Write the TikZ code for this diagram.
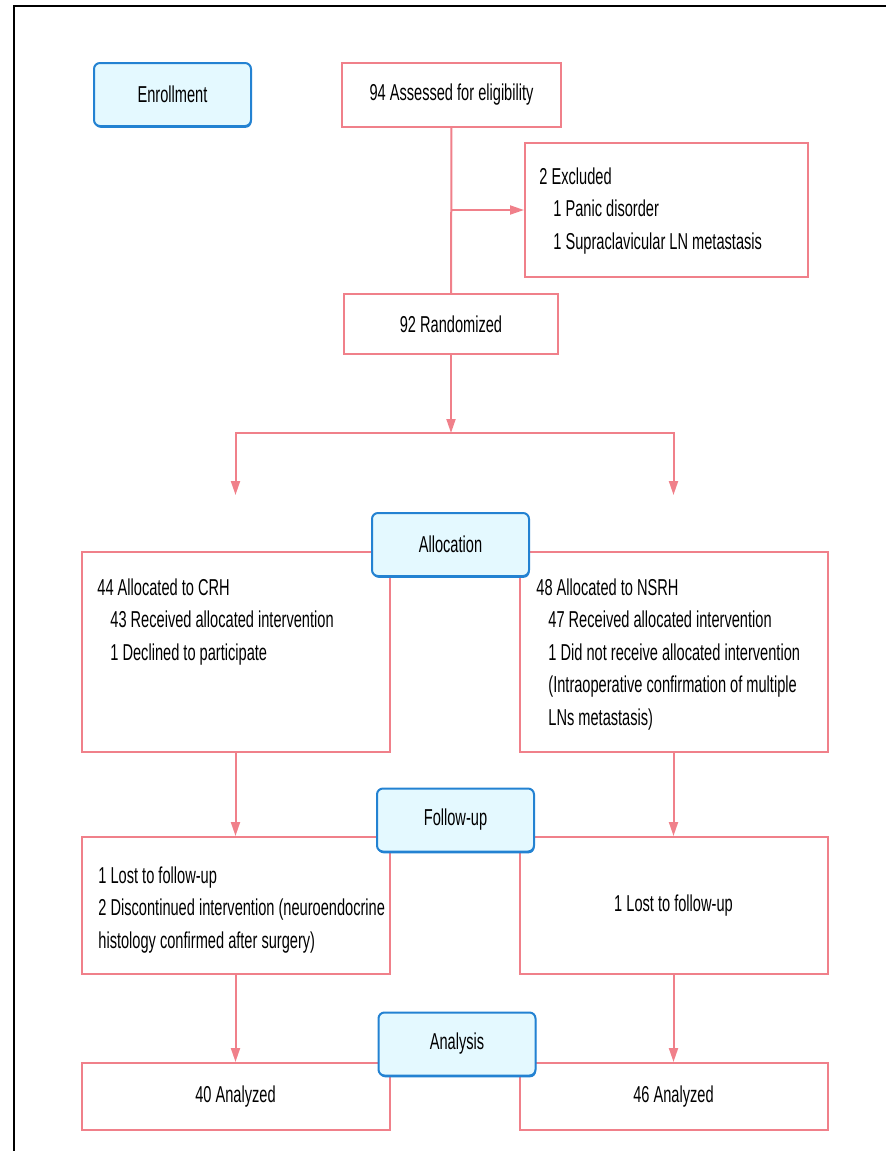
\documentclass[tikz,border=0pt]{standalone}
\usepackage{fontspec}
\setmainfont[FakeStretch=0.635]{Liberation Sans}
\usetikzlibrary{arrows.meta,shadows}

\definecolor{flowpink}{RGB}{240,128,138}
\definecolor{stageblue}{RGB}{35,130,210}
\definecolor{stagefill}{RGB}{228,249,255}

\tikzset{
  box/.style={draw=flowpink, line width=1pt, fill=white, inner sep=0pt},
  stage/.style={draw=stageblue, line width=1pt, fill=stagefill, rounded corners=3pt,
    minimum width=78.5pt, minimum height=31.5pt,
    drop shadow={shadow xshift=0.3pt, shadow yshift=-0.9pt, fill=stageblue, opacity=1}},
  txt/.style={anchor=north west, inner sep=0pt, align=left},
  link/.style={draw=flowpink, line width=1pt},
  arr/.style={link, -{Triangle[width=4.5pt,length=7pt]}}
}

\begin{document}
\begin{tikzpicture}[x=0.5pt, y=-0.5pt, font=\fontsize{11.5}{16.25}\selectfont]
\useasboundingbox (0,0) rectangle (886,1151);
\draw[line width=1pt] (14.3,1151) -- (14.3,5.7) -- (886,5.7);

\node[box, minimum width=109.5pt, minimum height=32pt] (assess) at (451.5,95) {94 Assessed for eligibility};
\node[box, minimum width=141.5pt, minimum height=67pt] (excl) at (666.5,210) {};
\node[txt] (excltxt) at (539,167) {2 Excluded\\\hspace*{7pt}1 Panic disorder\\\hspace*{7pt}1 Supraclavicular LN metastasis};
\node[box, minimum width=107pt, minimum height=30pt] (rand) at (451,324) {92 Randomized};
\coordinate (split) at (451,433);
\coordinate (crhin) at (235.5,495);
\coordinate (nsrhin) at (673.5,495);

\node[box, minimum width=154pt, minimum height=100pt] (crh) at (235.5,652) {};
\node[txt] (crhtxt) at (97,578) {44 Allocated to CRH\\\hspace*{6.5pt}43 Received allocated intervention\\\hspace*{6.5pt}1 Declined to participate};
\node[box, minimum width=154pt, minimum height=100pt] (nsrh) at (673.5,652) {};
\node[txt] (nsrhtxt) at (536,578) {48 Allocated to NSRH\\\hspace*{6pt}47 Received allocated intervention\\\hspace*{6pt}1 Did not receive allocated intervention\\\hspace*{6pt}(Intraoperative confirmation of multiple\\\hspace*{6pt}LNs metastasis)};

\node[box, minimum width=154pt, minimum height=68.5pt] (fucrh) at (235.5,905.5) {};
\node[txt] (fucrhtxt) at (98,866) {1 Lost to follow-up\\2 Discontinued intervention (neuroendocrine\\histology confirmed after surgery)};
\node[box, minimum width=154pt, minimum height=68.5pt] (funsrh) at (673.5,905.5) {1 Lost to follow-up};
\node[box, minimum width=154pt, minimum height=33.5pt] (ancrh) at (235.5,1096.5) {40 Analyzed};
\node[box, minimum width=154pt, minimum height=33.5pt] (annsrh) at (673.5,1096.5) {46 Analyzed};

\draw[link] (assess) -- (rand);
\draw[arr] (assess.south |- excl.west) -- (excl.west);
\draw[arr] (rand) -- (split);
\draw[arr] (split) -| (crhin);
\draw[arr] (split) -| (nsrhin);
\draw[arr] (crh) -- (fucrh);
\draw[arr] (nsrh) -- (funsrh);
\draw[arr] (fucrh) -- (ancrh);
\draw[arr] (funsrh) -- (annsrh);

\node[stage] (enroll) at (172.5,94.5) {Enrollment};
\node[stage] (alloc) at (450.5,544.5) {Allocation};
\node[stage] (follow) at (455.5,820) {Follow-up};
\node[stage] (analysis) at (457,1044) {Analysis};
\end{tikzpicture}
\end{document}
